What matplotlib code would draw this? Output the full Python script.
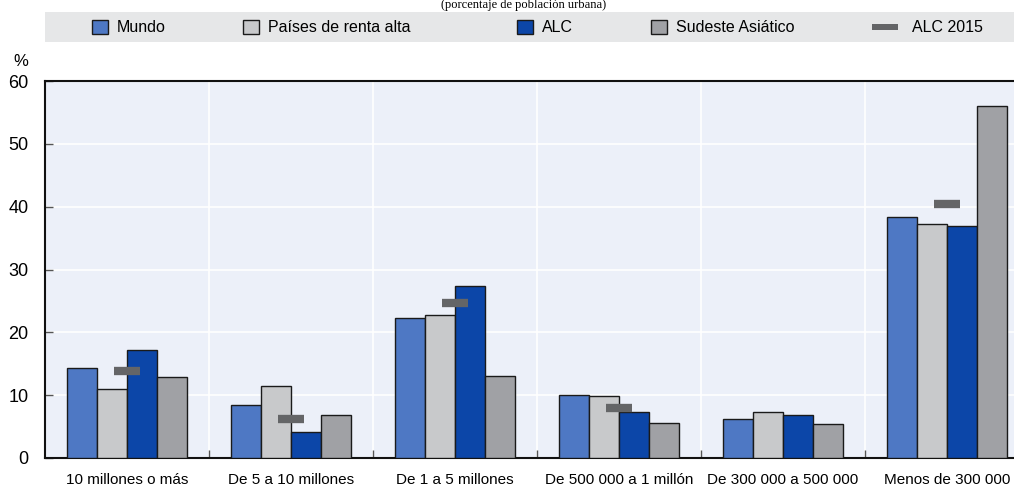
import numpy as np
import matplotlib.pyplot as plt
from matplotlib.patches import Rectangle
from matplotlib import font_manager

# fuente estrecha si existe
nombres = {f.name for f in font_manager.fontManager.ttflist}
fuente = 'Liberation Sans Narrow' if 'Liberation Sans Narrow' in nombres else 'Liberation Sans'
plt.rcParams['font.family'] = [fuente, 'DejaVu Sans']

categorias = ['10 millones o más', 'De 5 a 10 millones', 'De 1 a 5 millones',
              'De 500 000 a 1 millón', 'De 300 000 a 500 000', 'Menos de 300 000']

series = ['Mundo', 'Países de renta alta', 'ALC', 'Sudeste Asiático']
mundo = [14.4, 8.5, 22.3, 10.0, 6.2, 38.3]
renta_alta = [11.0, 11.5, 22.8, 9.9, 7.3, 37.3]
alc = [17.2, 4.1, 27.3, 7.3, 6.8, 37.0]
sudeste = [12.9, 6.9, 13.1, 5.5, 5.4, 56.0]
alc_2015 = [13.85, 6.2, 24.7, 8.0, np.nan, 40.5]

colores = ['#4E78C4', '#C8C9CB', '#0C46A8', '#A0A1A5']
color_2015 = '#646567'

fig = plt.figure(figsize=(10.14, 4.95), dpi=100)
ax = fig.add_axes([45/1014, 1-458/495, 984/1014, (458-81)/495])
ax.set_facecolor('#ECF0F9')

x = np.arange(len(categorias))
ancho = 0.183
for i, (vals, c) in enumerate(zip([mundo, renta_alta, alc, sudeste], colores)):
    ax.bar(x + (i - 1.5) * ancho, vals, width=ancho, color=c,
           edgecolor='#1a1a1a', linewidth=1.0, zorder=3)

# marcas ALC 2015
for xi, v in zip(x, alc_2015):
    if np.isnan(v):
        continue
    ax.plot([xi - 0.082, xi + 0.082], [v, v], color=color_2015, lw=6,
            solid_capstyle='butt', zorder=4)

ax.set_xlim(-0.5, len(categorias) - 0.5)
ax.set_ylim(0, 60)
ax.set_yticks(range(0, 61, 10))
ax.set_xticks(x)
ax.set_xticklabels(categorias, fontsize=11)
ax.set_xticks(x[:-1] + 0.5, minor=True)
ax.tick_params(axis='x', which='major', length=0, pad=11)
ax.tick_params(axis='x', which='minor', direction='in', length=6, color='#555555', width=1)
ax.tick_params(axis='y', direction='in', length=6, color='#555555', width=1,
               labelsize=13, pad=12)
ax.grid(True, which='minor', axis='x', color='white', lw=1.2, zorder=1)
ax.grid(True, which='major', axis='y', color='white', lw=1.2, zorder=1)
for s in ['top', 'left', 'bottom']:
    ax.spines[s].set_linewidth(1.5)
    ax.spines[s].set_color('#111111')
ax.spines['right'].set_visible(False)
ax.set_axisbelow(True)

fig.text(13/1014, 1-62/495, '%', fontsize=12, va='center', ha='left')

fig.text(524/1014, 1-5/495, '(porcentaje de población urbana)', fontsize=9,
         family='Liberation Serif', ha='center', va='center')

# banda de la leyenda
fig.patches.append(Rectangle((45/1014, 1-42/495), 1, 30/495, transform=fig.transFigure,
                             facecolor='#E6E7E8', edgecolor='none', zorder=0))
yl = 1 - 27/495
pos_parche = [92, 243, 517, 651]
for lab, c, px in zip(series, colores, pos_parche):
    fig.patches.append(Rectangle((px/1014, yl - 7/495), 16/1014, 14/495,
                                 transform=fig.transFigure, facecolor=c,
                                 edgecolor='#1a1a1a', lw=1))
    fig.text((px + 25)/1014, yl, lab, fontsize=11.5, va='center', ha='left')
fig.patches.append(Rectangle((872/1014, yl - 3/495), 26/1014, 6/495,
                             transform=fig.transFigure, facecolor=color_2015,
                             edgecolor='none'))
fig.text(912/1014, yl, 'ALC 2015', fontsize=11.5, va='center', ha='left')

fig.savefig('out.png', dpi=100)
